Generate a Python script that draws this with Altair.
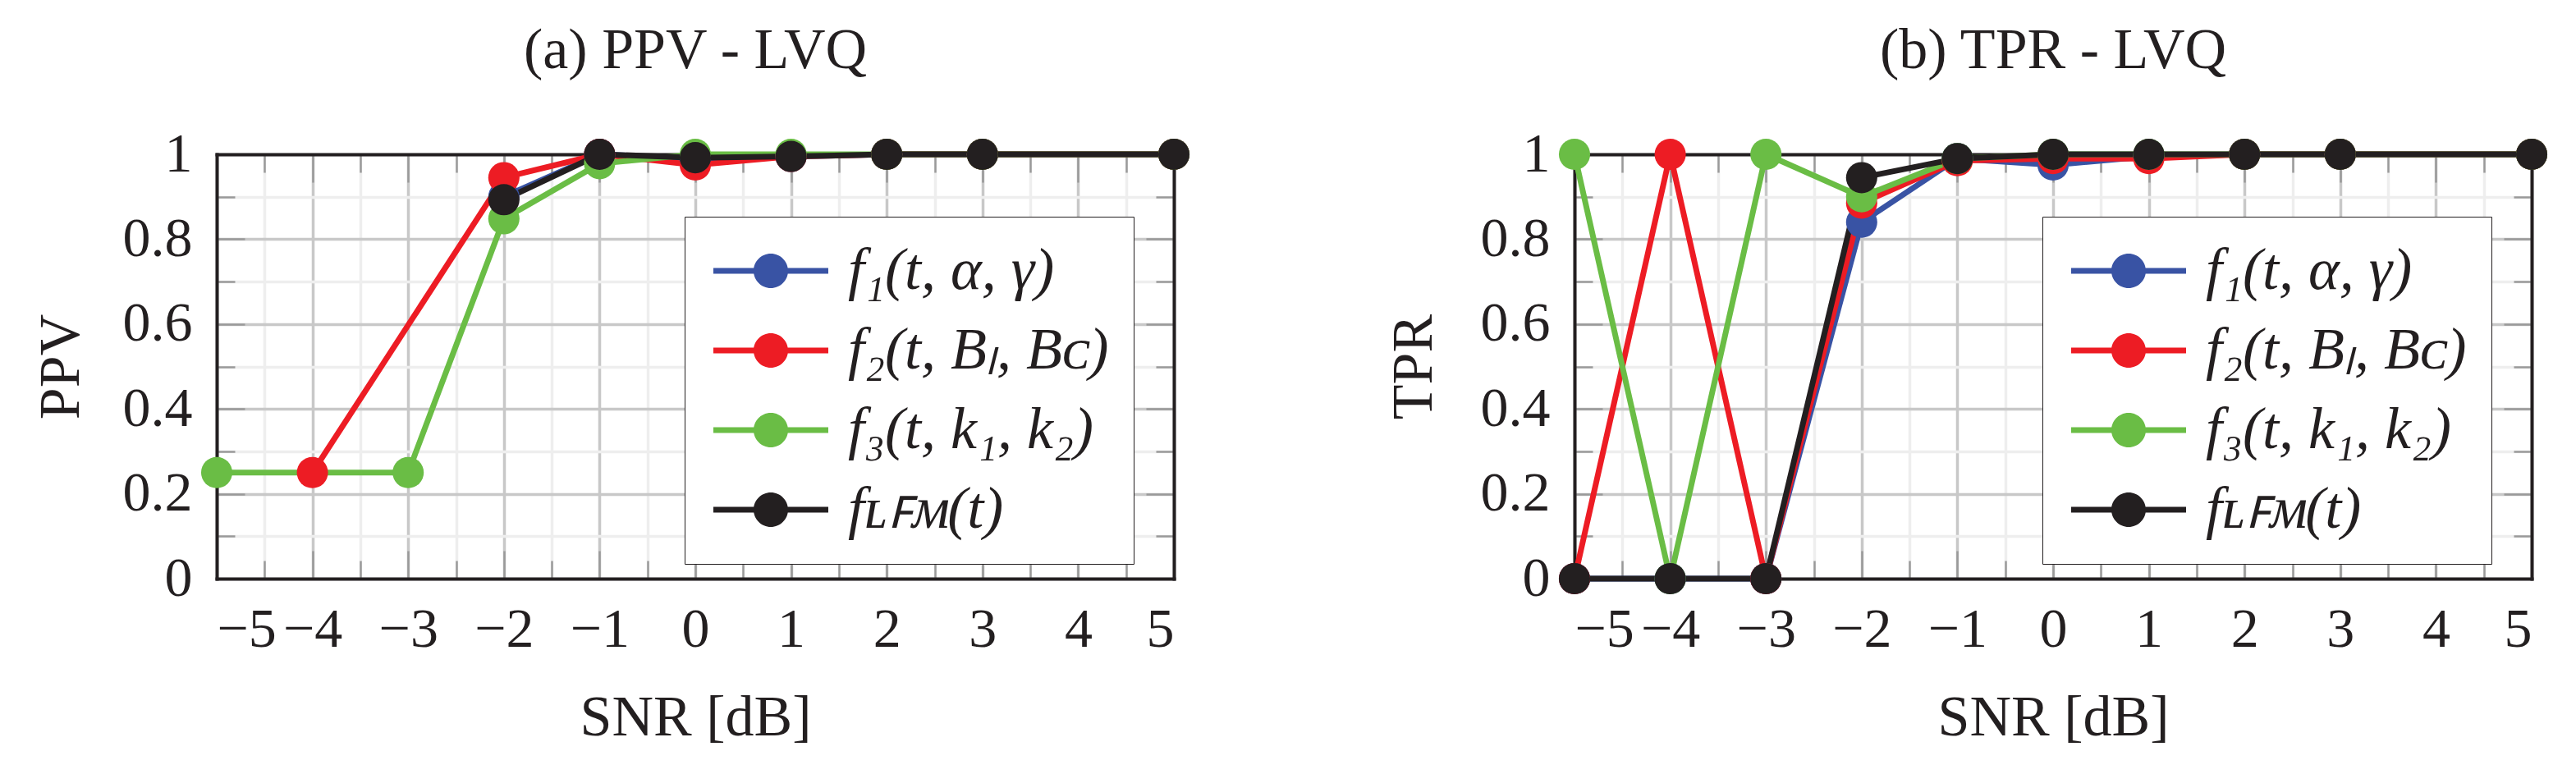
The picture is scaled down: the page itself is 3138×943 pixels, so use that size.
import altair as alt
import pandas as pd

# ---------------- data ----------------
snr = [-5, -4, -3, -2, -1, 0, 1, 2, 3, 5]
series_keys = ["f1", "f2", "f3", "fLFM"]
series_labels = ["f₁(t, α, γ)", "f₂(t, Bₗ, Bᴄ)", "f₃(t, k₁, k₂)", "fʟꜰᴍ(t)"]
colors = ["#3953A4", "#ED1C24", "#6ABD45", "#231F20"]

ppv_f1 = [None, None, None, 0.90, 1.00, 0.99, 0.995, 1.0, 1.0, 1.0]
ppv_f2 = [None, 0.25, None, 0.945, 1.00, 0.975, 0.995, 1.0, 1.0, 1.0]
ppv_f3 = [0.25, None, 0.25, 0.848, 0.978, 1.00, 1.00, 1.0, 1.0, 1.0]
ppv_lfm = [None, None, None, 0.893, 1.00, 0.992, 0.995, 1.0, 1.0, 1.0]

tpr_f1 = [0.0, 0.0, 0.0, 0.84, 0.99, 0.975, 0.995, 1.0, 1.0, 1.0]
tpr_f2 = [0.0, 1.0, 0.0, 0.885, 0.985, 0.99, 0.99, 1.0, 1.0, 1.0]
tpr_f3 = [1.0, 0.0, 1.0, 0.90, 0.99, 1.00, 1.00, 1.0, 1.0, 1.0]
tpr_lfm = [0.0, 0.0, 0.0, 0.945, 0.99, 1.00, 1.00, 1.0, 1.0, 1.0]

x_major = [-5, -4, -3, -2, -1, 0, 1, 2, 3, 4, 5]
x_minor = [-4.5, -3.5, -2.5, -1.5, -0.5, 0.5, 1.5, 2.5, 3.5, 4.5]
y_major = [0, 0.2, 0.4, 0.6, 0.8, 1.0]
y_minor = [0.1, 0.3, 0.5, 0.7, 0.9]


def long_df(values_list):
    rows = []
    for key, vals in zip(series_keys, values_list):
        for s, v in zip(snr, vals):
            if v is not None:
                rows.append({"snr": s, "value": v, "series": key, "line": key})
    return pd.DataFrame(rows)


ppv_df = long_df([ppv_f1, ppv_f2, ppv_f3, ppv_lfm])
tpr_df = long_df([tpr_f1, tpr_f2, tpr_f3, tpr_lfm])

# ---------------- styling ----------------
W, H = 1166, 517
FONT = "Liberation Serif"
INK = "#231F20"
FS = 70        # titles
FS_TICK = 68   # tick labels
FS_LEG = 72    # legend labels

x_inner = sorted([v for v in x_major if abs(v) != 5] + x_minor)
y_inner = [0.1, 0.2, 0.3, 0.4, 0.5, 0.6, 0.7, 0.8, 0.9]
tick_x = {"condition": {"test": "datum.value % 1 == 0", "value": 34}, "value": 22}
tick_y = {"condition": {"test": "round(datum.value * 10) % 2 == 0", "value": 34}, "value": 22}

label_expr = " : ".join(
    f"datum.label == '{k}' ? '{l}'" for k, l in zip(series_keys, series_labels)
) + " : datum.label"

# legend glyph: a line segment with a dot, in units of sqrt(symbolSize)/2 = 31 px
SYM_SIZE = 62 * 62
_u = 31.0
_x0, _x1 = -1.0, (140 - _u) / _u
_t = 3.5 / _u
_cx, _r = (70 - _u) / _u, 21 / _u
sym_path = (f"M{_x0:.3f},{-_t:.3f}L{_x1:.3f},{-_t:.3f}L{_x1:.3f},{_t:.3f}L{_x0:.3f},{_t:.3f}Z "
            f"M{_cx + _r:.3f},0A{_r:.3f},{_r:.3f},0,1,1,{_cx - _r:.3f},0"
            f"A{_r:.3f},{_r:.3f},0,1,1,{_cx + _r:.3f},0Z")


def tick_axis(orient, values, size, offset):
    return alt.Axis(orient=orient, offset=offset, values=values, grid=False,
                    labels=False, ticks=True, tickSize=size, tickColor="#9a9a9a",
                    tickWidth=2.5, domain=True, domainColor=INK, domainWidth=4,
                    domainCap="square", title=None)


def panel(df, ytitle, title, ytx):
    base = alt.Chart(df)
    xs = alt.Scale(domain=[-5, 5], nice=False)
    ys = alt.Scale(domain=[0, 1], nice=False, zero=False)
    cs = alt.Scale(domain=series_keys, range=colors)

    minor = base.mark_line(opacity=0).encode(
        x=alt.X("snr:Q", scale=xs, axis=alt.Axis(
            orient="bottom", values=x_minor, grid=True, gridColor="#eeeeee",
            gridWidth=3.5, labels=False, ticks=False, domain=False, title=None)),
        y=alt.Y("value:Q", scale=ys, axis=alt.Axis(
            orient="left", values=y_minor, grid=True, gridColor="#eeeeee",
            gridWidth=3.5, labels=False, ticks=False, domain=False, title=None)),
        detail="series:N",
    )

    lines = base.mark_line(strokeWidth=7, strokeJoin="round").encode(
        x=alt.X("snr:Q", scale=xs, axis=alt.Axis(
            orient="bottom", values=x_major, grid=True, gridColor="#c8c8c8",
            gridWidth=3.5, ticks=False, domain=False, labelFontSize=FS_TICK,
            labelPadding=28, labelColor=INK,
            labelExpr="datum.value < 0 ? '−' + abs(datum.value) : '' + datum.value",
            title="SNR [dB]", titleFontSize=FS, titleFontWeight="normal",
            titleColor=INK, titleX=W / 2, titleY=169, titleBaseline="middle")),
        y=alt.Y("value:Q", scale=ys, axis=alt.Axis(
            orient="left", values=y_major, grid=True, gridColor="#c8c8c8",
            gridWidth=3.5, ticks=False, domain=False, labelFontSize=FS_TICK,
            labelPadding=30, labelColor=INK,
            labelExpr="format(datum.value, '~g')",
            title=ytitle, titleFontSize=FS, titleFontWeight="normal",
            titleColor=INK, titleX=ytx, titleY=H / 2, titleAngle=270,
            titleBaseline="middle", titleAlign="center")),
        stroke=alt.Stroke("line:N", scale=alt.Scale(range=colors), legend=None),
    )

    ticks_a = base.mark_point(opacity=0).encode(
        x=alt.X("snr:Q", scale=xs, axis=tick_axis("top", x_inner, tick_x, -H)),
        y=alt.Y("value:Q", scale=ys, axis=tick_axis("right", y_inner, tick_y, -W)),
    )
    ticks_b = base.mark_point(opacity=0).encode(
        x=alt.X("snr:Q", scale=xs, axis=tick_axis("bottom", x_inner, tick_x, -H)),
        y=alt.Y("value:Q", scale=ys, axis=tick_axis("left", y_inner, tick_y, -W)),
    )

    points = base.mark_circle(size=1450, opacity=1).encode(
        x=alt.X("snr:Q", scale=xs, axis=None),
        y=alt.Y("value:Q", scale=ys, axis=None),
        color=alt.Color("series:N", scale=cs, legend=alt.Legend(
            orient="none", legendX=570, legendY=76, title=None,
            symbolType=sym_path, symbolSize=SYM_SIZE, symbolStrokeWidth=0,
            labelFont=FONT, labelFontSize=FS_LEG, labelFontStyle="italic",
            labelColor=INK, labelLimit=900, labelOffset=97, padding=30,
            rowPadding=25, strokeColor=INK, fillColor="white",
            labelExpr=label_expr)),
    )

    return alt.layer(minor, lines, ticks_a, ticks_b, points).resolve_axis(
        x="independent", y="independent"
    ).properties(
        width=W, height=H,
        title=alt.TitleParams(title, fontSize=FS, font=FONT, fontWeight="normal",
                              anchor="middle", frame="group", offset=56, color=INK),
    )


left = panel(ppv_df, "PPV", "(a) PPV - LVQ", -190)
right = panel(tpr_df, "TPR", "(b) TPR - LVQ", -196)

chart = alt.hconcat(left, right, spacing=488, bounds="flush").resolve_scale(
    color="independent", stroke="independent"
).properties(
    padding={"left": 30, "top": 18, "right": 5, "bottom": 5}
).configure_view(stroke=None).configure_axis(
    labelFont=FONT, titleFont=FONT
).configure_legend(strokeWidth=3.5).configure(font=FONT)

chart.save("out.html", embed_options={"renderer": "svg", "actions": False})
